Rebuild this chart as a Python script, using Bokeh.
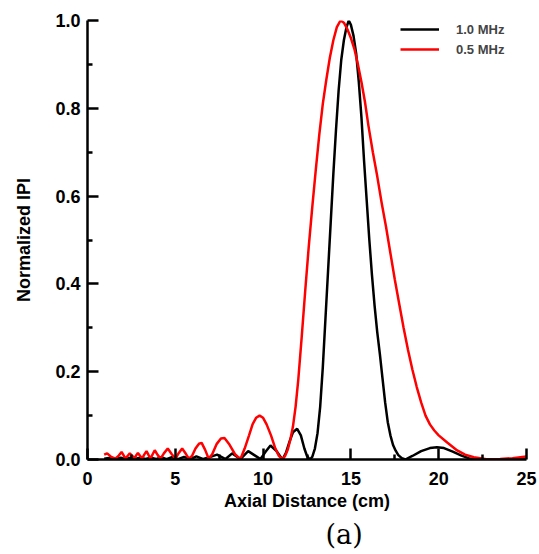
from bokeh.plotting import figure
from bokeh.models import Range1d, Legend, LegendItem, Title, FixedTicker
from bokeh.embed import file_html
from bokeh.resources import INLINE

# 1.0 MHz (black)
x_1mhz = [0.95, 1.3, 1.6, 1.9, 2.15, 2.45, 2.7, 3.0, 3.3, 3.6, 3.9, 4.2, 4.5, 4.8,
          5.15, 5.5, 5.85, 6.2, 6.6, 7.0, 7.38, 7.86, 8.24, 8.71, 9.15, 9.5, 9.85,
          10.15, 10.42, 10.75, 11.1, 11.3, 11.5, 11.7, 11.94, 12.15, 12.35, 12.5,
          12.66, 12.8, 12.95, 13.1, 13.25, 13.4, 13.55, 13.7, 13.85, 14.0, 14.15,
          14.3, 14.45, 14.6, 14.75, 14.88, 15.0, 15.15, 15.3, 15.45, 15.6, 15.75,
          15.9, 16.05, 16.2, 16.35, 16.5, 16.65, 16.8, 16.95, 17.1, 17.25, 17.4,
          17.55, 17.7, 17.9, 18.1, 18.5, 19.0, 19.5, 19.9, 20.3, 20.8, 21.3, 21.7,
          22.0, 23.0, 24.0, 25.0]
y_1mhz = [0.002, 0.004, 0.001, 0.004, 0.001, 0.004, 0.001, 0.004, 0.001, 0.004,
          0.001, 0.005, 0.001, 0.005, 0.001, 0.006, 0.001, 0.007, 0.001, 0.006,
          0.011, 0.001, 0.014, 0.001, 0.019, 0.01, 0.001, 0.018, 0.032, 0.02,
          0.0, 0.015, 0.04, 0.062, 0.07, 0.055, 0.025, 0.008, 0.0, 0.006, 0.025,
          0.06, 0.12, 0.21, 0.32, 0.43, 0.54, 0.65, 0.75, 0.84, 0.91, 0.955,
          0.985, 1.0, 0.99, 0.965, 0.925, 0.86, 0.78, 0.68, 0.59, 0.5, 0.42,
          0.35, 0.29, 0.24, 0.185, 0.13, 0.085, 0.055, 0.033, 0.02, 0.01, 0.003,
          0.0, 0.008, 0.019, 0.026, 0.028, 0.026, 0.018, 0.009, 0.003, 0.0, 0.0,
          0.0, 0.0]

# 0.5 MHz (red)
x_05mhz = [0.95, 1.12, 1.35, 1.59, 1.78, 1.94, 2.05, 2.16, 2.28, 2.41, 2.55, 2.68,
           2.78, 2.87, 3.0, 3.11, 3.23, 3.36, 3.48, 3.59, 3.71, 3.83, 4.0, 4.16,
           4.35, 4.57, 4.8, 5.01, 5.2, 5.39, 5.6, 5.77, 5.95, 6.15, 6.35, 6.5, 6.7,
           6.9, 7.1, 7.35, 7.6, 7.8, 8.05, 8.4, 8.71, 8.95, 9.2, 9.4, 9.6, 9.8,
           10.0, 10.2, 10.45, 10.7, 10.9, 11.1, 11.25, 11.4, 11.55, 11.7, 11.85,
           12.0, 12.2, 12.4, 12.6, 12.8, 13.0, 13.2, 13.4, 13.6, 13.8, 14.0, 14.2,
           14.41, 14.6, 14.8, 15.0, 15.2, 15.4, 15.6, 15.8, 16.0, 16.25, 16.5,
           16.75, 17.0, 17.25, 17.5, 17.75, 18.0, 18.25, 18.5, 18.75, 19.0, 19.25,
           19.5, 19.75, 20.0, 20.5, 21.0, 21.5, 22.0, 22.8, 23.5, 24.2, 25.0]
y_05mhz = [0.011, 0.014, 0.006, 0.002, 0.009, 0.017, 0.01, 0.002, 0.008, 0.014,
           0.008, 0.003, 0.01, 0.015, 0.008, 0.002, 0.011, 0.019, 0.01, 0.002,
           0.012, 0.021, 0.01, 0.002, 0.014, 0.025, 0.012, 0.002, 0.015, 0.025,
           0.013, 0.002, 0.008, 0.025, 0.036, 0.038, 0.022, 0.002, 0.012, 0.035,
           0.048, 0.049, 0.036, 0.012, 0.001, 0.025, 0.055, 0.08, 0.095, 0.1,
           0.095, 0.08, 0.055, 0.025, 0.008, 0.0, 0.008, 0.022, 0.045, 0.075,
           0.12, 0.18, 0.28, 0.385, 0.485, 0.575, 0.66, 0.74, 0.81, 0.865, 0.915,
           0.955, 0.985, 1.0, 0.995, 0.98, 0.96, 0.935, 0.9, 0.86, 0.815, 0.76,
           0.7, 0.645, 0.585, 0.53, 0.47, 0.41, 0.355, 0.3, 0.25, 0.205, 0.165,
           0.13, 0.1, 0.08, 0.066, 0.055, 0.038, 0.022, 0.011, 0.005, 0.0, 0.001,
           0.003, 0.007]

x_ticks = [0, 5, 10, 15, 20, 25]
y_ticks = [0.0, 0.2, 0.4, 0.6, 0.8, 1.0]
legend_labels = ["1.0 MHz", "0.5 MHz"]
caption = "(a)"

p = figure(width=538, height=553, output_backend="svg", toolbar_location=None,
           x_range=Range1d(0, 25), y_range=Range1d(0, 1.0),
           min_border_left=87, min_border_top=20, min_border_right=12,
           min_border_bottom=93)
p.outline_line_color = None
p.grid.visible = False
p.background_fill_color = "white"

r1 = p.line(x_1mhz, y_1mhz, line_color="black", line_width=2.5)
r2 = p.line(x_05mhz, y_05mhz, line_color="#ff0000", line_width=2.5)

for ax in (p.xaxis[0], p.yaxis[0]):
    ax.axis_line_width = 2.5
    ax.major_tick_line_width = 2.5
    ax.minor_tick_line_width = 2.5
    ax.major_tick_in = 11
    ax.major_tick_out = 0
    ax.minor_tick_in = 5
    ax.minor_tick_out = 0
    ax.major_label_text_font = "Liberation Sans"
    ax.major_label_text_font_style = "bold"
    ax.major_label_text_font_size = "18px"
    ax.major_label_text_color = "black"
    ax.axis_label_text_font = "Liberation Sans"
    ax.axis_label_text_font_style = "bold"
    ax.axis_label_text_font_size = "18px"
    ax.axis_label_text_color = "black"

p.xaxis[0].ticker = FixedTicker(ticks=x_ticks, minor_ticks=[2.5, 7.5, 12.5, 17.5, 22.5])
p.yaxis[0].ticker = FixedTicker(ticks=y_ticks, minor_ticks=[0.1, 0.3, 0.5, 0.7, 0.9])
p.xaxis[0].major_label_overrides = {0: "0", 5: "5", 10: "10", 15: "15", 20: "20", 25: "25"}
p.yaxis[0].major_label_overrides = {0: "0.0", 0.2: "0.2", 0.4: "0.4", 0.6: "0.6", 0.8: "0.8", 1: "1.0"}
p.xaxis[0].axis_label = "Axial Distance (cm)"
p.yaxis[0].axis_label = "Normalized IPI"
p.xaxis[0].major_label_standoff = 12
p.yaxis[0].major_label_standoff = 7
p.xaxis[0].axis_label_standoff = 3
p.yaxis[0].axis_label_standoff = 18

legend = Legend(items=[LegendItem(label=legend_labels[0], renderers=[r1]),
                       LegendItem(label=legend_labels[1], renderers=[r2])],
                location=(313, 400), padding=0, margin=0, spacing=0,
                border_line_color=None, background_fill_alpha=0,
                glyph_width=39, glyph_height=20, label_height=20,
                label_standoff=17, label_text_font="Liberation Sans",
                label_text_font_style="bold", label_text_font_size="13px")
p.add_layout(legend)

cap = Title(text=caption, align="left", offset=238, standoff=7,
            text_font="DejaVu Serif", text_font_style="normal",
            text_font_size="27px", text_color="black")
p.add_layout(cap, "below")

open("out.html", "w").write(file_html(p, INLINE))
